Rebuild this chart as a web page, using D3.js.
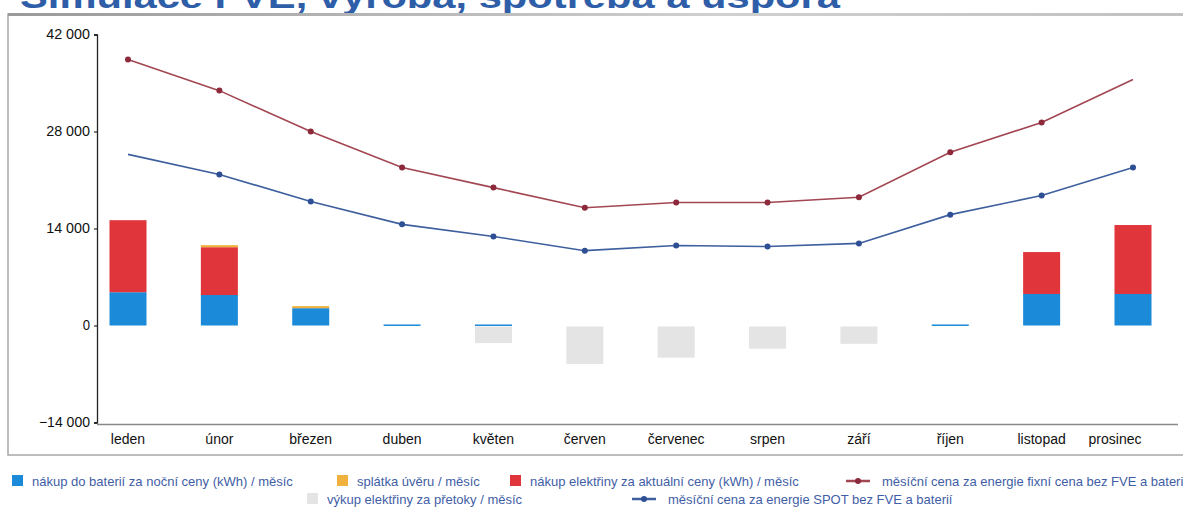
<!DOCTYPE html>
<html lang="cs">
<head>
<meta charset="utf-8">
<script src="https://cdn.jsdelivr.net/npm/d3@7"></script>
<style>
  html, body { margin: 0; padding: 0; background: #fff; }
  svg { display: block; font-family: "Liberation Sans", Arial, sans-serif; }
</style>
</head>
<body>
<svg id="chart" width="1183" height="508"></svg>
<script>
// Měsíce
const months = ["leden", "únor", "březen", "duben", "květen", "červen",
  "červenec", "srpen", "září", "říjen", "listopad", "prosinec"];

// Sloupce (Kč / měsíc)
const batteryNight = [4800, 4400, 2500, 150, 150, 0, 0, 0, 0, 150, 4550, 4550];
const loanPayment  = [0, 300, 300, 0, 0, 0, 0, 0, 0, 0, 0, 0];
const gridPurchase = [10400, 6900, 0, 0, 0, 0, 0, 0, 0, 0, 6050, 9950];
const surplusSale  = [0, 0, 0, 0, -2400, -5400, -4500, -3200, -2500, 0, 0, 0];

// Čáry (Kč / měsíc)
const fixedPrice = [38400, 33900, 28000, 22800, 19900, 17000, 17750, 17750, 18500, 25000, 29300, 35500];
const spotPrice  = [24700, 21800, 17900, 14600, 12850, 10800, 11550, 11400, 11850, 16000, 18750, 22800];

// Osa Y
const yTicks = [-14000, 0, 14000, 28000, 42000];

const svg = d3.select("#chart");
const fmt = v => d3.format(",")(v).replace(/,/g, " ");

// Nadpis (horní okraj stránky jej ořezává)
svg.append("text")
  .attr("x", 20).attr("y", 8)
  .attr("font-size", 34).attr("font-weight", "bold")
  .attr("fill", "#2f5ea8")
  .attr("textLength", 820).attr("lengthAdjust", "spacingAndGlyphs")
  .text("Simulace FVE, výroba, spotřeba a úspora");

// Rámeček panelu
const grad = svg.append("defs").append("linearGradient")
  .attr("id", "topfade").attr("x1", 0).attr("x2", 1);
grad.append("stop").attr("offset", "0").attr("stop-color", "#9a9a9a");
grad.append("stop").attr("offset", "0.6").attr("stop-color", "#d0d0d0");
grad.append("stop").attr("offset", "1").attr("stop-color", "#c0c0c0");
svg.append("rect")
  .attr("x", 8).attr("y", 14).attr("width", 1190).attr("height", 441)
  .attr("fill", "#fff").attr("stroke", "#a8a8a8").attr("stroke-width", 1.5);
svg.append("rect")
  .attr("x", 8).attr("y", 13).attr("width", 1190).attr("height", 3)
  .attr("fill", "url(#topfade)");

const x = d3.scalePoint().domain(months).range([128, 1133]);
const y = d3.scaleLinear().domain([-14000, 42000]).range([422.5, 34.5]);
const barW = 37;

// Osa Y
const yAxis = svg.append("g")
  .attr("transform", "translate(97,0)")
  .call(d3.axisLeft(y).tickValues(yTicks).tickFormat(fmt).tickSize(3).tickPadding(4));
yAxis.select(".domain").attr("stroke", "#222").attr("stroke-width", 1.3);
yAxis.selectAll("text").attr("font-size", 14).attr("fill", "#111")
  .attr("textLength", d => fmt(d).length * 7.3).attr("lengthAdjust", "spacingAndGlyphs");

// Osa X
svg.append("line")
  .attr("x1", 97).attr("x2", 1178)
  .attr("y1", y(-14000) + 2).attr("y2", y(-14000) + 2)
  .attr("stroke", "#8a8a8a").attr("stroke-width", 1.5);
svg.append("g").selectAll("text").data(months).join("text")
  .attr("x", (d, i) => i === months.length - 1 ? x(d) - 18 : x(d))
  .attr("y", 444)
  .attr("text-anchor", "middle")
  .attr("font-size", 14).attr("fill", "#111")
  .text(d => d);

// Skládané sloupce
const stackSeries = [
  { name: "battery", values: batteryNight, color: "#1b8ad8" },
  { name: "grid", values: gridPurchase, color: "#e0353a" },
  { name: "loan", values: loanPayment, color: "#f1b23d" }
];
const rows = months.map((m, i) => {
  const r = { month: m };
  stackSeries.forEach(s => r[s.name] = s.values[i]);
  return r;
});
const stacked = d3.stack().keys(stackSeries.map(s => s.name))(rows);
const bars = svg.append("g");
stacked.forEach((layer, li) => {
  bars.append("g").attr("fill", stackSeries[li].color)
    .selectAll("rect").data(layer.filter(d => d[1] - d[0] > 0)).join("rect")
    .attr("x", d => x(d.data.month) - barW / 2)
    .attr("width", barW)
    .attr("y", d => y(d[1]))
    .attr("height", d => Math.max(1.5, y(d[0]) - y(d[1])));
});

// Výkup přetoků (záporné hodnoty)
bars.append("g").attr("fill", "#e4e4e4")
  .selectAll("rect").data(months.map((m, i) => ({ m, v: surplusSale[i] })).filter(d => d.v < 0))
  .join("rect")
  .attr("x", d => x(d.m) - barW / 2)
  .attr("width", barW)
  .attr("y", y(0) + 1)
  .attr("height", d => y(d.v) - y(0));

// Čáry
const lineGen = d3.line().x((d, i) => x(months[i])).y(d => y(d));
const lines = [
  { values: fixedPrice, stroke: "#a24652", dot: "#8c2a3c", skip: 11 },
  { values: spotPrice, stroke: "#3e5f9e", dot: "#2f4f94", skip: 0 }
];
lines.forEach(l => {
  svg.append("path").datum(l.values)
    .attr("d", lineGen)
    .attr("fill", "none").attr("stroke", l.stroke).attr("stroke-width", 1.6);
  svg.append("g").selectAll("circle")
    .data(l.values.map((v, i) => ({ v, i })).filter(d => d.i !== l.skip))
    .join("circle")
    .attr("cx", d => x(months[d.i])).attr("cy", d => y(d.v))
    .attr("r", 3).attr("fill", l.dot);
});

// Legenda
const legend = svg.append("g").attr("font-size", 13).attr("fill", "#3f5ea6");
const boxItems = [
  { x: 12, y: 481, color: "#1b8ad8", label: "nákup do baterií za noční ceny (kWh) / měsíc" },
  { x: 337, y: 481, color: "#f1b23d", label: "splátka úvěru / měsíc" },
  { x: 510, y: 481, color: "#e0353a", label: "nákup elektřiny za aktuální ceny (kWh) / měsíc" },
  { x: 307, y: 499, color: "#e4e4e4", label: "výkup elektřiny za přetoky / měsíc" }
];
boxItems.forEach(it => {
  legend.append("rect").attr("x", it.x).attr("y", it.y - 6)
    .attr("width", 11).attr("height", 11).attr("fill", it.color);
  legend.append("text").attr("x", it.x + 20).attr("y", it.y + 4.5)
    .attr("fill", "#3f5ea6").text(it.label);
});
const lineItems = [
  { x: 846, y: 481, color: "#a24652", dot: "#8c2a3c", label: "měsíční cena za energie fixní cena bez FVE a baterií" },
  { x: 632, y: 499, color: "#3e5f9e", dot: "#2f4f94", label: "měsíční cena za energie SPOT bez FVE a baterií" }
];
lineItems.forEach(it => {
  legend.append("line").attr("x1", it.x).attr("x2", it.x + 24)
    .attr("y1", it.y).attr("y2", it.y)
    .attr("stroke", it.color).attr("stroke-width", 2.5);
  legend.append("circle").attr("cx", it.x + 12).attr("cy", it.y).attr("r", 3)
    .attr("fill", it.dot);
  legend.append("text").attr("x", it.x + 36).attr("y", it.y + 4.5)
    .attr("fill", "#3f5ea6").text(it.label);
});
</script>
</body>
</html>
